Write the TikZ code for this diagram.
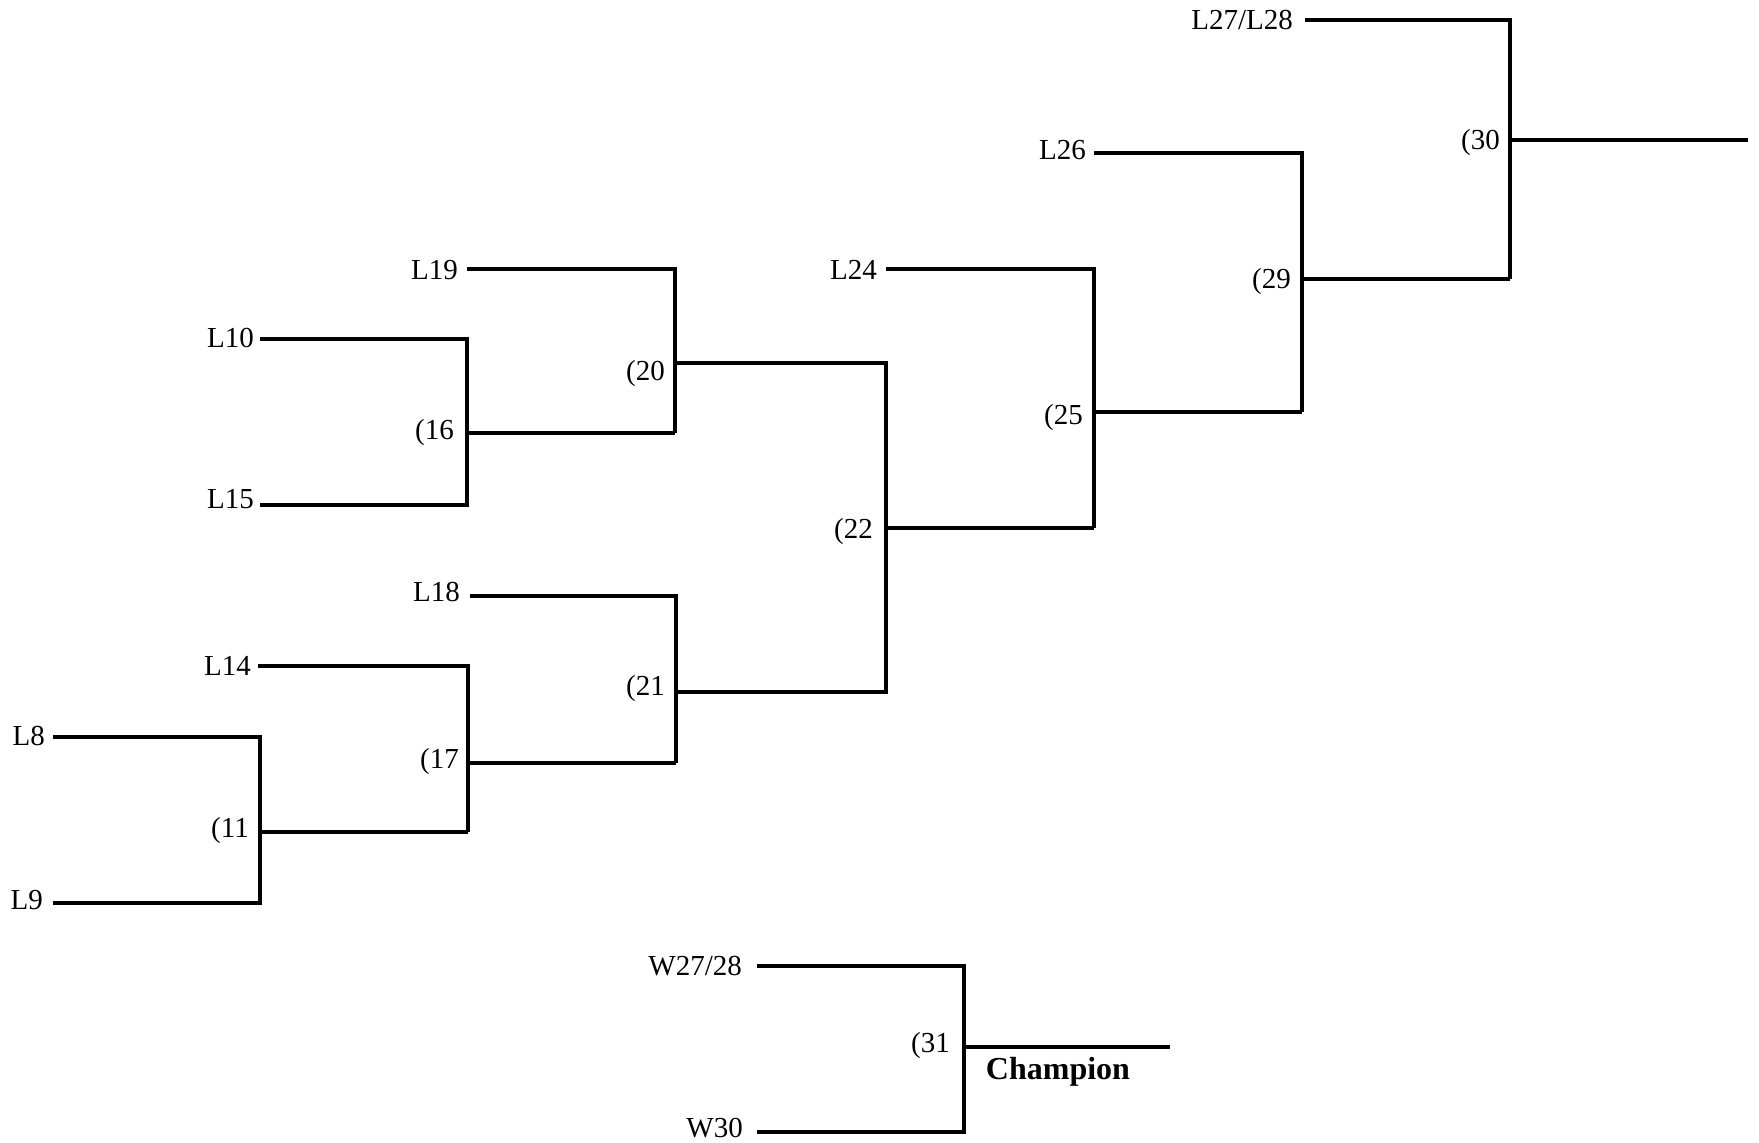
\documentclass[tikz,border=0pt]{standalone}
\usepackage{fontspec}
\setmainfont{Liberation Serif}
\begin{document}
\begin{tikzpicture}[x=1pt,y=-1pt,
  br/.style={line width=3.6pt, line join=miter, line cap=butt},
  lbl/.style={anchor=east, inner sep=0pt, text height=20pt, text depth=0pt, font=\fontsize{29}{31}\selectfont},
  champ/.style={anchor=center, inner sep=0pt, text height=21pt, text depth=0pt, font=\fontsize{32}{34}\selectfont\bfseries}]
\useasboundingbox (0,0) rectangle (1759,1143);
% coordinates
\coordinate (a8) at (53,737);   \coordinate (a9) at (53,903);
\coordinate (m11t) at (260,737); \coordinate (m11b) at (260,903); \coordinate (m11o) at (260,832);
\coordinate (a14) at (258,666);
\coordinate (m17t) at (468,666); \coordinate (m17b) at (468,832); \coordinate (m17o) at (468,763);
\coordinate (a10) at (260,339); \coordinate (a15) at (260,505);
\coordinate (m16t) at (467,339); \coordinate (m16b) at (467,505); \coordinate (m16o) at (467,433);
\coordinate (a19) at (467,269);
\coordinate (m20t) at (675,269); \coordinate (m20b) at (675,433); \coordinate (m20o) at (675,363);
\coordinate (a18) at (470,596);
\coordinate (m21t) at (676,596); \coordinate (m21b) at (676,763); \coordinate (m21o) at (676,692);
\coordinate (m22t) at (886,363); \coordinate (m22b) at (886,692); \coordinate (m22o) at (886,528);
\coordinate (a24) at (886,269);
\coordinate (m25t) at (1094,269); \coordinate (m25b) at (1094,528); \coordinate (m25o) at (1094,412);
\coordinate (a26) at (1094,153);
\coordinate (m29t) at (1302,153); \coordinate (m29b) at (1302,412); \coordinate (m29o) at (1302,279);
\coordinate (a2728) at (1305,20);
\coordinate (m30t) at (1510,20); \coordinate (m30b) at (1510,279); \coordinate (m30o) at (1510,140);
\coordinate (e30) at (1748,140);
\coordinate (aw) at (757,966); \coordinate (aw30) at (757,1132);
\coordinate (m31t) at (964,966); \coordinate (m31b) at (964,1132); \coordinate (m31o) at (964,1047);
\coordinate (e31) at (1170,1047);
% bracket lines
\draw[br] (a8) -- (m11t) -- (m11b) -- (a9);
\draw[br] (m11o) -- (m17b);
\draw[br] (a14) -- (m17t) -- (m17b);
\draw[br] (a10) -- (m16t) -- (m16b) -- (a15);
\draw[br] (m16o) -- (m20b);
\draw[br] (a19) -- (m20t) -- (m20b);
\draw[br] (m17o) -- (m21b);
\draw[br] (a18) -- (m21t) -- (m21b);
\draw[br] (m20o) -- (m22t) -- (m22b) -- (m21o);
\draw[br] (m22o) -- (m25b);
\draw[br] (a24) -- (m25t) -- (m25b);
\draw[br] (m25o) -- (m29b);
\draw[br] (a26) -- (m29t) -- (m29b);
\draw[br] (m29o) -- (m30b);
\draw[br] (a2728) -- (m30t) -- (m30b);
\draw[br] (m30o) -- (e30);
\draw[br] (aw) -- (m31t) -- (m31b) -- (aw30);
\draw[br] (m31o) -- (e31);
% labels
\node[lbl] (tL2728) at (1293,19) {L27/L28};
\node[lbl] (tL26) at (1086,149) {L26};
\node[lbl] (tL24) at (877,269) {L24};
\node[lbl] (tL19) at (458,269) {L19};
\node[lbl] (tL10) at (254,337) {L10};
\node[lbl] (tL15) at (254,498) {L15};
\node[lbl] (tL18) at (460,591) {L18};
\node[lbl] (tL14) at (251,665) {L14};
\node[lbl] (tL8) at (45,735) {L8};
\node[lbl] (tL9) at (43,899) {L9};
\node[lbl] (tW2728) at (742,965) {W27/28};
\node[lbl] (tW30) at (743,1127) {W30};
\node[lbl] (g30) at (1500,139) {(30};
\node[lbl] (g29) at (1291,278) {(29};
\node[lbl] (g25) at (1083,414) {(25};
\node[lbl] (g22) at (873,528) {(22};
\node[lbl] (g20) at (665,370) {(20};
\node[lbl] (g16) at (454,429) {(16};
\node[lbl] (g21) at (665,685) {(21};
\node[lbl] (g17) at (459,758) {(17};
\node[lbl] (g11) at (249,827) {(11};
\node[lbl] (g31) at (950,1042) {(31};
\node[champ] (champ) at (1058,1069) {Champion};
\end{tikzpicture}
\end{document}
